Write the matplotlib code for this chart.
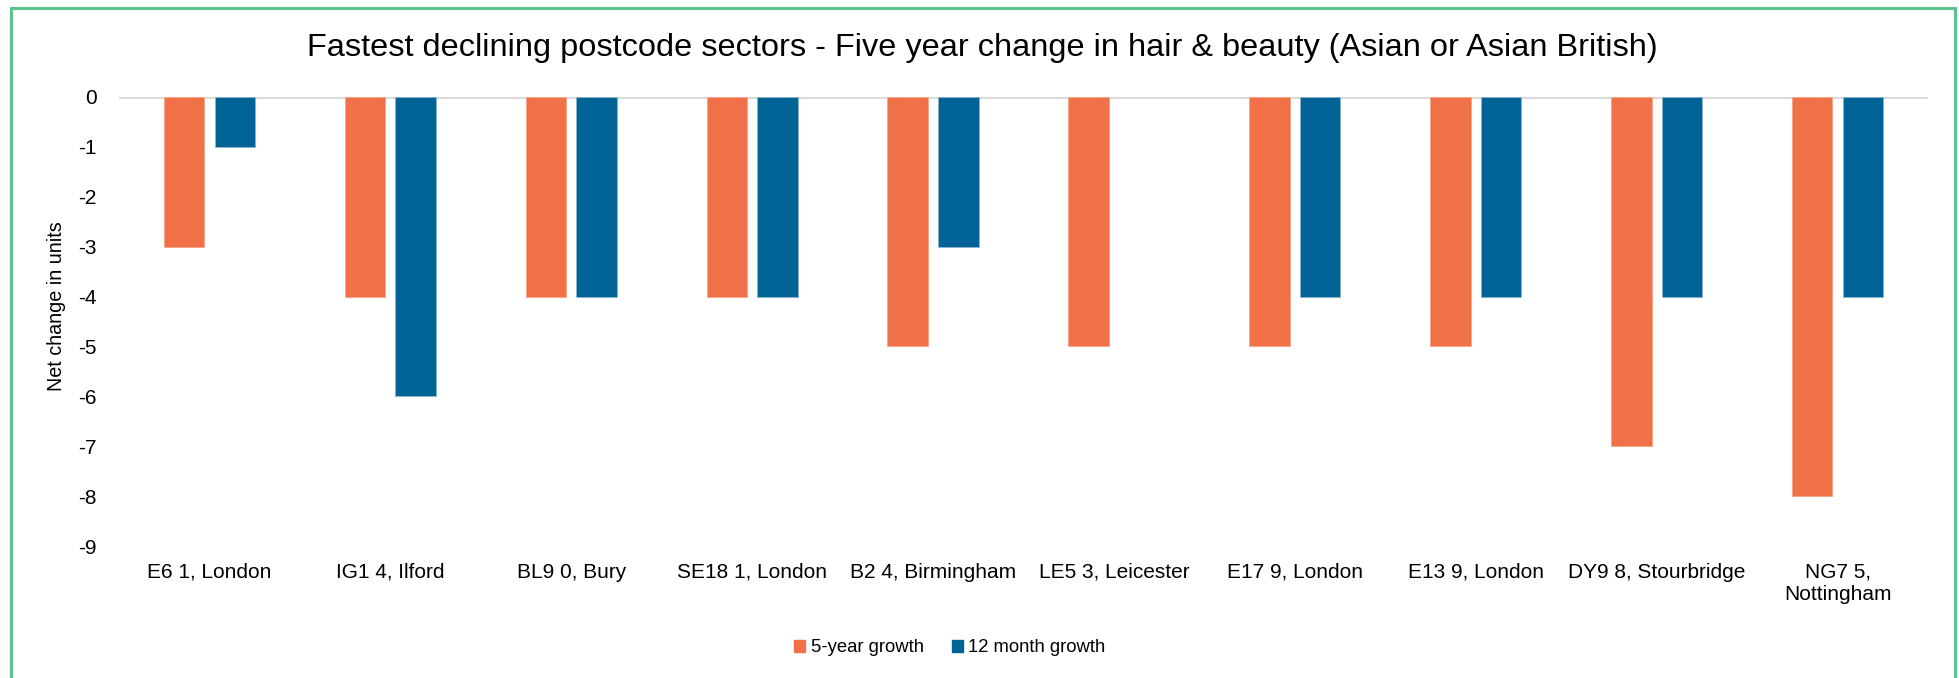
import matplotlib
matplotlib.use("Agg")
import matplotlib.pyplot as plt
from matplotlib.patches import Patch, Rectangle
import numpy as np

plt.rcParams['font.family'] = ['Liberation Sans', 'DejaVu Sans']

categories = ["E6 1, London", "IG1 4, Ilford", "BL9 0, Bury", "SE18 1, London",
              "B2 4, Birmingham", "LE5 3, Leicester", "E17 9, London",
              "E13 9, London", "DY9 8, Stourbridge", "NG7 5,\nNottingham"]
five_year = [-3, -4, -4, -4, -5, -5, -5, -5, -7, -8]
twelve_month = [-1, -6, -4, -4, -3, 0, -4, -4, -4, -4]
series_names = ["5-year growth", "12 month growth"]
y_ticks = [0, -1, -2, -3, -4, -5, -6, -7, -8, -9]

ORANGE = "#F07047"
BLUE = "#006396"
W, H = 1959, 678

fig = plt.figure(figsize=(W / 100, H / 100), dpi=100)
ax = fig.add_axes([119 / W, 1 - 546 / H, (1928 - 119) / W, (546 - 97) / H])

x = np.arange(len(categories))
bw = 0.224
off = 0.14


def edges(values, col):
    return [col if v != 0 else "none" for v in values]


ax.bar(x - off, five_year, bw, color=ORANGE,
       edgecolor=edges(five_year, "#F6A585"), linewidth=0.6)
ax.bar(x + off, twelve_month, bw, color=BLUE,
       edgecolor=edges(twelve_month, "#8DB5CF"), linewidth=0.6)

ax.set_xlim(-0.5, len(categories) - 0.5)
ax.set_ylim(-9, 0)
ax.set_yticks(y_ticks)
ax.set_yticklabels([str(v) for v in y_ticks])
ax.set_xticks(x)
ax.set_xticklabels(categories, linespacing=1.2)
ax.tick_params(axis="both", length=0, labelsize=15, colors="black")
ax.tick_params(axis="y", pad=16)
ax.tick_params(axis="x", pad=12)
for s in ax.spines.values():
    s.set_visible(False)
ax.axhline(0, color="#D9D9D9", linewidth=2, zorder=0)

fig.text(57 / W, 1 - 306 / H, "Net change in units", rotation=90,
         ha="center", va="center", fontsize=14.2)

fig.text(982.5 / W, 1 - 48 / H,
         "Fastest declining postcode sectors - Five year change in hair & beauty (Asian or Asian British)",
         ha="center", va="center", fontsize=23.4)

handles = [Patch(color=ORANGE), Patch(color=BLUE)]
fig.legend(handles, series_names, loc="center", bbox_to_anchor=(950 / W, 1 - 648 / H),
           ncol=2, frameon=False, fontsize=13.3, handlelength=0.6, handleheight=0.6,
           handletextpad=0.3, columnspacing=1.5)

fig.patches.append(Rectangle((11 / W, -0.05), (1955 - 11) / W, 1.05 - 8 / H,
                             transform=fig.transFigure, fill=False,
                             edgecolor="#5CC48C", linewidth=2.2))

fig.savefig("out.png", dpi=100)
